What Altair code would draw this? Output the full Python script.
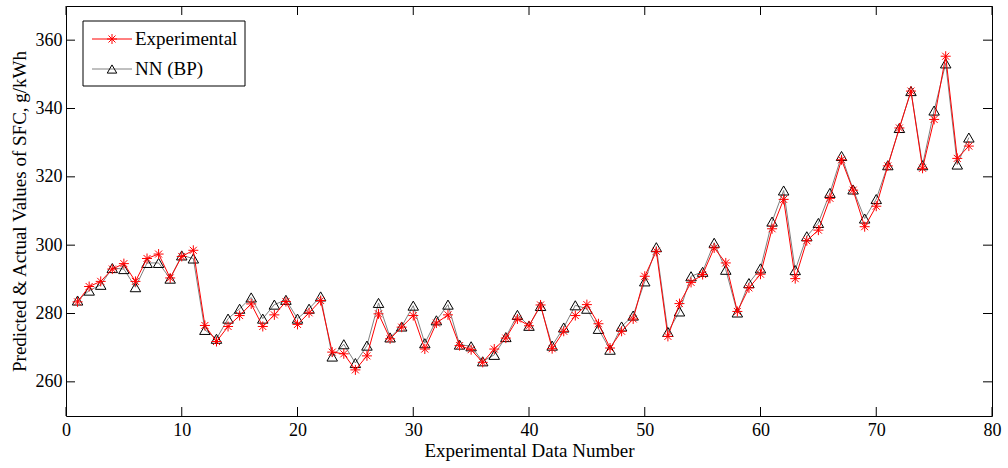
import altair as alt
import pandas as pd

data_number = list(range(1, 79))
experimental = [
    283.4, 287.9, 289.4, 293.0, 294.6, 289.4, 296.1, 297.4, 290.4, 296.7,
    298.5, 276.5, 271.8, 276.2, 279.4, 282.8, 276.2, 279.6, 283.5, 276.8,
    280.2, 283.8, 268.7, 268.2, 263.5, 267.6, 279.9, 272.6, 276.0, 279.4,
    269.6, 277.2, 279.6, 270.6, 269.4, 265.7, 269.6, 272.8, 278.4, 276.4,
    282.5, 269.7, 274.8, 279.4, 282.6, 277.0, 269.9, 274.8, 278.4, 290.9,
    298.2, 273.3, 282.9, 289.1, 291.4, 299.2, 294.8, 280.6, 287.5, 291.5,
    304.8, 313.4, 290.2, 301.3, 304.4, 313.7, 325.0, 316.1, 305.4, 311.4,
    323.2, 334.3, 345.1, 322.5, 336.8, 355.3, 325.4, 329.0,
]
nn_bp = [
    283.8, 286.7, 288.4, 293.3, 293.0, 287.7, 294.8, 294.8, 290.2, 297.0,
    296.1, 275.2, 272.6, 278.5, 281.4, 284.7, 278.5, 282.6, 284.0, 278.5,
    281.4, 285.0, 267.4, 271.0, 265.5, 270.6, 283.1, 273.0, 276.2, 282.3,
    271.3, 278.0, 282.6, 270.9, 270.4, 266.0, 267.9, 273.1, 279.6, 276.4,
    282.2, 270.6, 275.9, 282.4, 281.4, 275.5, 269.4, 276.2, 279.4, 289.4,
    299.4, 274.6, 280.6, 290.9, 292.2, 300.7, 292.8, 280.3, 288.9, 293.2,
    306.9, 316.0, 292.7, 302.6, 306.5, 315.3, 326.1, 316.3, 307.8, 313.5,
    323.4, 334.3, 345.1, 323.4, 339.4, 353.2, 323.6, 331.5,
]
x_ticks = [0, 10, 20, 30, 40, 50, 60, 70, 80]
y_ticks = [260, 280, 300, 320, 340, 360]
legend_labels = ["Experimental", "NN (BP)"]

df = pd.DataFrame({"n": data_number, "exp": experimental, "nn": nn_bp})
xt_df = pd.DataFrame({"t": x_ticks})
yt_df = pd.DataFrame({"t": y_ticks})

FONT = "Liberation Serif"
W, H = 926, 410
TICK = 9
STAR = "M0,-1L0,1M-1,0L1,0M-0.7,-0.7L0.7,0.7M-0.7,0.7L0.7,-0.7"

xscale = alt.Scale(domain=[0, 80], nice=False, zero=False)
yscale = alt.Scale(domain=[250, 370], nice=False, zero=False)

x_axis = alt.Axis(orient="bottom", values=x_ticks, ticks=False,
                  domain=False, grid=False, labelPadding=5, labelFont=FONT,
                  labelFontSize=18, labelColor="black",
                  title="Experimental Data Number", titleFont=FONT,
                  titleFontSize=19, titleFontWeight="normal", titleColor="black",
                  titlePadding=2, labelFlush=False, labelOverlap=False)
y_axis = alt.Axis(orient="left", values=y_ticks, ticks=False,
                  domain=False, grid=False, labelPadding=4, labelFont=FONT,
                  labelFontSize=18, labelColor="black",
                  title="Predicted & Actual Values of SFC, g/kWh", titleFont=FONT,
                  titleFontSize=19, titleFontWeight="normal", titleColor="black",
                  titlePadding=6, labelFlush=False, labelOverlap=False)

X_N = alt.X("n:Q", scale=xscale, axis=x_axis)
base = alt.Chart(df)

nn_line = base.mark_line(color="#808080", strokeWidth=1).encode(
    x=X_N, y=alt.Y("nn:Q", scale=yscale, axis=y_axis))
nn_pts = base.mark_point(shape="triangle-up", filled=False, color="black",
                         size=110, strokeWidth=1, opacity=1).encode(
    x=X_N, y=alt.Y("nn:Q", scale=yscale, axis=y_axis))
exp_line = base.mark_line(color="#ff0000", strokeWidth=1).encode(
    x=X_N, y=alt.Y("exp:Q", scale=yscale, axis=y_axis))
exp_pts = base.mark_point(shape=STAR, filled=False, color="#ff0000",
                          size=100, strokeWidth=1, opacity=1).encode(
    x=X_N, y=alt.Y("exp:Q", scale=yscale, axis=y_axis))

# inward ticks on all four sides, placed through the shared scales
xt = alt.Chart(xt_df)
yt = alt.Chart(yt_df)
XT = alt.X("t:Q", scale=xscale, axis=x_axis)
YT = alt.Y("t:Q", scale=yscale, axis=y_axis)
tick_bottom = xt.mark_rule(color="black", strokeWidth=1).encode(
    x=XT, y=alt.value(H - TICK), y2=alt.value(H))
tick_top = xt.mark_rule(color="black", strokeWidth=1).encode(
    x=XT, y=alt.value(0), y2=alt.value(TICK))
tick_left = yt.mark_rule(color="black", strokeWidth=1).encode(
    y=YT, x=alt.value(0), x2=alt.value(TICK))
tick_right = yt.mark_rule(color="black", strokeWidth=1).encode(
    y=YT, x=alt.value(W - TICK), x2=alt.value(W))

one = alt.Data(values=[{"k": 1}])
leg_box = alt.Chart(one).mark_rect(fill="white", stroke="black", strokeWidth=1).encode(
    x=alt.value(17), x2=alt.value(179), y=alt.value(15), y2=alt.value(80))
leg_l1 = alt.Chart(one).mark_rule(color="#ff0000", strokeWidth=1).encode(
    x=alt.value(26), x2=alt.value(66), y=alt.value(33))
leg_m1 = alt.Chart(one).mark_point(shape=STAR, filled=False, color="#ff0000",
                                   size=100, strokeWidth=1, opacity=1).encode(
    x=alt.value(46), y=alt.value(33))
leg_t1 = alt.Chart(one).mark_text(text=legend_labels[0], align="left", baseline="middle",
                                  font=FONT, fontSize=19, color="black").encode(
    x=alt.value(69), y=alt.value(33))
leg_l2 = alt.Chart(one).mark_rule(color="#808080", strokeWidth=1).encode(
    x=alt.value(26), x2=alt.value(66), y=alt.value(63))
leg_m2 = alt.Chart(one).mark_point(shape="triangle-up", filled=False, color="black",
                                   size=90, strokeWidth=1, opacity=1).encode(
    x=alt.value(46), y=alt.value(63))
leg_t2 = alt.Chart(one).mark_text(text=legend_labels[1], align="left", baseline="middle",
                                  font=FONT, fontSize=19, color="black").encode(
    x=alt.value(69), y=alt.value(63))

chart = alt.layer(
    nn_line, nn_pts, exp_line, exp_pts,
    tick_bottom, tick_top, tick_left, tick_right,
    leg_box, leg_l1, leg_m1, leg_t1, leg_l2, leg_m2, leg_t2,
).properties(
    width=W, height=H,
    autosize=alt.AutoSizeParams(type="none"),
    padding={"left": 66, "top": 6, "right": 1008 - 66 - W, "bottom": 468 - 6 - H},
    background="white",
).configure_view(stroke="black", strokeWidth=1)

chart.save("out.html", embed_options={"renderer": "svg", "actions": False})
